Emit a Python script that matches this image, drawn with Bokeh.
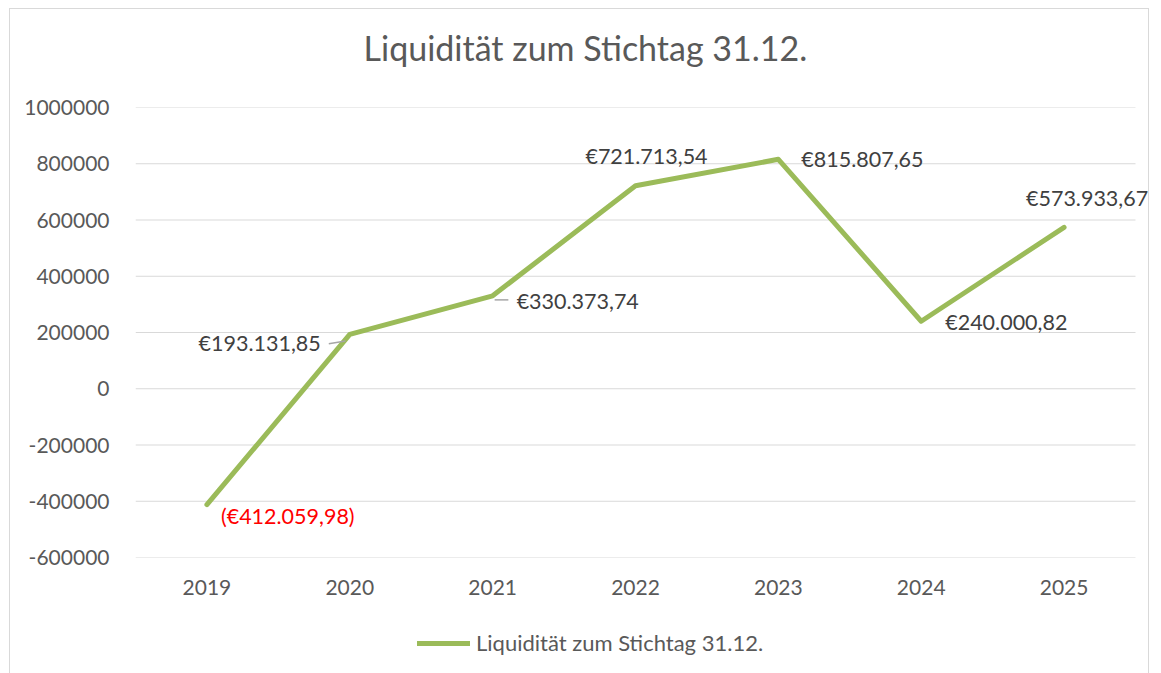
from bokeh.plotting import figure
from bokeh.layouts import column
from bokeh.models import (ColumnDataSource, Range1d, FixedTicker, NumeralTickFormatter,
                          Legend, LegendItem, LabelSet)
from bokeh.core.properties import value
from bokeh.embed import file_html
from bokeh.resources import INLINE

years = ["2019", "2020", "2021", "2022", "2023", "2024", "2025"]
values = [-412059.98, 193131.85, 330373.74, 721713.54, 815807.65, 240000.82, 573933.67]
y_ticks = [-600000, -400000, -200000, 0, 200000, 400000, 600000, 800000, 1000000]
series_name = "Liquidität zum Stichtag 31.12."
chart_title = "Liquidität zum Stichtag 31.12."

# label placement (screen px, dy positive = up)
lab_dx = [14, -29, 24, 11, 23, 24, 23]
lab_dy = [-11, -9, -5, 30, 0, -1, 29]
lab_align = ["left", "right", "left", "center", "left", "left", "center"]

def fmt(v):
    s = f"{abs(v):,.2f}".replace(",", "X").replace(".", ",").replace("X", ".")
    return f"(€{s})" if v < 0 else f"€{s}"

labels = [fmt(v) for v in values]
colors = ["#FF0000" if v < 0 else "#404040" for v in values]
xs = list(range(len(years)))

FONT = "Lato"
GREEN = "#9BBB59"
GRID = "#d9d9d9"
TXT = "#595959"
BORDER = "1px solid #d9d9d9"

def bare(fig):
    fig.axis.visible = False
    fig.grid.visible = False
    fig.outline_line_color = None
    fig.min_border = 0
    return fig

# ---- title strip ----
head = bare(figure(width=1140, height=80, x_range=Range1d(135, 1148), y_range=Range1d(79, 0),
                   output_backend="svg", toolbar_location=None))
head.styles = {"margin-left": "9px", "margin-top": "8px", "border-top": BORDER,
               "border-left": BORDER, "border-right": BORDER}
head.text(x=[584], y=[38], text=[chart_title], text_align="center", text_baseline="middle",
          text_font=value(FONT), text_font_size="34px", text_color=TXT)

# ---- main chart ----
p = figure(width=1140, height=527, x_range=Range1d(-0.5, 6.605),
           y_range=Range1d(-600000, 1000000), output_backend="svg",
           toolbar_location=None)
p.styles = {"margin-left": "9px", "border-left": BORDER, "border-right": BORDER}
p.min_border_left = 125
p.min_border_right = 0
p.min_border_top = 19
p.min_border_bottom = 58
p.outline_line_color = None

p.xgrid.grid_line_color = None
p.ygrid.grid_line_color = None
p.yaxis.ticker = FixedTicker(ticks=y_ticks)
p.yaxis.formatter = NumeralTickFormatter(format="0")
p.xaxis.ticker = FixedTicker(ticks=xs)
p.xaxis.major_label_overrides = {i: y for i, y in zip(xs, years)}
for ax in (p.xaxis, p.yaxis):
    ax.axis_line_color = None
    ax.major_tick_line_color = None
    ax.minor_tick_line_color = None
    ax.major_label_text_font = FONT
    ax.major_label_text_font_size = "21px"
    ax.major_label_text_color = TXT
p.yaxis.major_label_standoff = 20
p.xaxis.major_label_standoff = 16

# horizontal gridlines across the category band only
p.segment(x0=[xs[0] - 0.5] * len(y_ticks), x1=[xs[-1] + 0.5] * len(y_ticks),
          y0=y_ticks, y1=y_ticks, line_color=GRID, line_width=1)

src = ColumnDataSource(dict(x=xs, y=values, text=labels, color=colors,
                            dx=lab_dx, dy=lab_dy, align=lab_align))
ln = p.line("x", "y", source=src, line_color=GREEN, line_width=5, line_cap="round",
            line_join="round")

# leader lines
p.segment(x0=[1 - 0.147, 2 + 0.014], y0=[160000, 316000],
          x1=[1 - 0.03, 2 + 0.11], y1=[170000, 316000],
          line_color="#a6a6a6", line_width=1.5)

p.add_layout(LabelSet(x="x", y="y", text="text", source=src, x_offset="dx", y_offset="dy",
                      text_align="align", text_baseline="middle", text_color="color",
                      text_font=value(FONT), text_font_size="21.5px"))

# ---- legend strip ----
leg = bare(figure(width=1140, height=58, x_range=Range1d(100, 101), y_range=Range1d(0, 1),
                  output_backend="svg", toolbar_location=None))
leg.styles = {"margin-left": "9px", "border-left": BORDER, "border-right": BORDER}
leg_r = leg.line("x", "y", source=src, line_color=GREEN, line_width=5, line_cap="round")
legend = Legend(items=[LegendItem(label=series_name, renderers=[leg_r])],
                location=(282, 17), orientation="horizontal",
                label_text_font=FONT, label_text_font_size="22px",
                label_text_color=TXT, glyph_width=53, glyph_height=20,
                label_standoff=6, border_line_color=None, background_fill_alpha=0,
                padding=0, margin=0)
leg.add_layout(legend)

layout = column(head, p, leg, spacing=0)
open("out.html", "w").write(file_html(layout, INLINE))
